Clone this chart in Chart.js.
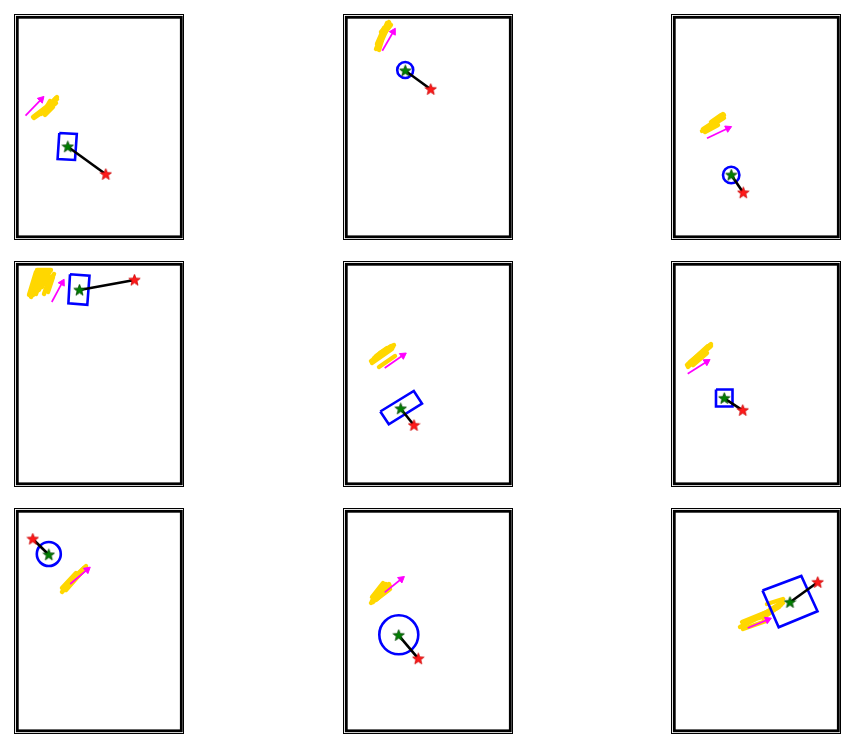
<!DOCTYPE html>
<html>
<head>
<meta charset="utf-8">
<script src="https://cdn.jsdelivr.net/npm/chart.js@4.4.1/dist/chart.umd.min.js"></script>
<style>
  html, body { margin: 0; padding: 0; background: #ffffff; }
  body { width: 853px; height: 746px; position: relative; overflow: hidden; }
  canvas.panel { position: absolute; }
</style>
</head>
<body>
<script>
// ---- data (panel-local coordinates, x to the right, y downward) ----
const panelCols = [0, 1, 2, 0, 1, 2, 0, 1, 2];
const panelRows = [0, 0, 0, 1, 1, 1, 2, 2, 2];

const greenStars = [[53.8,132.7],[62.3,56.7],[60.3,161],[65.5,29],[57.7,147.7],[53.3,137.3],[34.8,46.7],[55.7,127.3],[119,94.3]];
const redStars   = [[91.8,160.3],[87.7,75.3],[72.3,178.7],[120.5,19],[71,164.3],[71.7,149.3],[18.8,31],[75.3,150.7],[146.7,74.3]];

const arrowTail = [[11.5,101.7],[39.3,36.7],[36,124.3],[37.8,41],[41.7,107],[16.7,112.7],[56.2,76],[41.7,84.3],[76.7,120]];
const arrowTip  = [[27.2,85.3],[50.3,17.7],[57,114.3],[48.2,21.7],[60,94.3],[35.7,100.7],[73.2,61.7],[58.3,71],[96.7,111.7]];

const rectCorners = [
  [[45.3,119],[62.8,120],[61,146],[43.6,145]],
  null,
  null,
  [[56,13.3],[75.5,14.8],[73.3,43.8],[54.4,42.2]],
  [[37.3,150.5],[70.8,130],[79,142.5],[45.8,163.3]],
  [[45,128.5],[61.5,128.5],[61.5,145.5],[45,145.5]],
  null,
  null,
  [[91.5,82.5],[130.3,68],[146.5,103.3],[107.7,119.3]]
];
const circleCenters = [null,[62.2,56],[60.2,161],null,null,null,[34.8,46],[55.8,126.8],null];
const circleRadii   = [null,8,8.2,null,null,null,12,19.5,null];

// yellow scribble strokes: [x1, y1, x2, y2]
const yellowStrokes = [
  [[19,103,40,87],[20,104,42,89],[23,101,43,85],[27,100,42,84],[30,97,43,83],[31,101,39,93],[33,95,41,90],[29,99,36,87]],
  [[33,35,44,9],[35,35,46,8],[34,30,41,14],[38,24,47,10],[41,20,48,11],[36,36,39,26],[39,26,44,15],[38,18,46,9]],
  [[31,117,51,104],[32,115,52,102],[37,113,53,101],[40,112,53,104],[34,118,47,111],[45,108,52,100],[40,108,50,101]],
  [[15,34,22,11],[17,36,25,10],[19,34,28,10],[22,33,30,10],[25,29,33,10],[28,26,36,10],[30,33,36,16],[34,31,39,16],[23,9,37,9],[37,18,40,13]],
  [[28,100,47,87],[29,102,49,88],[31,97,48,85],[37,92,51,84],[41,91,50,86],[36,106,52,95],[33,95,44,87]],
  [[16,104,37,85],[17,106,40,83],[19,101,38,86],[22,104,36,92],[25,98,40,85],[27,97,39,84],[20,103,34,89]],
  [[48,84,70,60],[49,82,72,59],[52,82,67,65],[54,78,72,60],[48,80,62,65],[59,70,72,58],[58,74,70,62]],
  [[29,93,43,76],[30,94,46,76],[33,92,47,78],[29,89,40,75],[34,91,47,81],[31,88,44,79],[28,95,38,85]],
  [[69,119,99,104],[71,114,103,101],[88,110,108,99],[92,110,110,97],[95,106,112,95],[97,103,111,94],[96,96,112,91],[72,121,95,113],[90,107,100,102]]
];

// ---- styling ----
const COL_LEFT = [12, 341, 669];
const ROW_TOP = [12, 259, 506];
const CANVAS_W = 174, CANVAS_H = 230;

function makeStar(fill, edge) {
  const c = document.createElement('canvas');
  c.width = 13; c.height = 13;
  const g = c.getContext('2d');
  const cx = 6.5, cy = 6.8, R = 6, r = 2.5;
  g.beginPath();
  for (let k = 0; k < 10; k++) {
    const rad = k % 2 === 0 ? R : r;
    const a = -Math.PI / 2 + k * Math.PI / 5;
    const px = cx + rad * Math.cos(a), py = cy + rad * Math.sin(a);
    if (k === 0) g.moveTo(px, py); else g.lineTo(px, py);
  }
  g.closePath();
  g.fillStyle = fill; g.fill();
  g.lineWidth = 0.8; g.strokeStyle = edge; g.stroke();
  return c;
}
const greenStarImg = makeStar('#008000', '#004400');
const redStarImg = makeStar('#ff1a1a', '#cc0000');

const framePlugin = {
  id: 'frames',
  afterDraw(chart) {
    const g = chart.ctx;
    g.save();
    g.strokeStyle = '#000';
    g.lineWidth = 1;
    g.strokeRect(2.5, 2.5, 169, 225);
    g.lineWidth = 2.8;
    g.strokeRect(5.3, 5.3, 164, 219.5);
    g.restore();
  }
};

const pt = p => ({ x: p[0], y: p[1] });

for (let i = 0; i < 9; i++) {
  const cv = document.createElement('canvas');
  cv.className = 'panel';
  cv.width = CANVAS_W; cv.height = CANVAS_H;
  cv.style.left = COL_LEFT[panelCols[i]] + 'px';
  cv.style.top = ROW_TOP[panelRows[i]] + 'px';
  cv.style.width = CANVAS_W + 'px';
  cv.style.height = CANVAS_H + 'px';
  document.body.appendChild(cv);

  const datasets = [];
  datasets.push({
    data: [pt(greenStars[i]), pt(redStars[i])],
    pointStyle: [greenStarImg, redStarImg],
    pointRadius: 6,
    showLine: false,
    order: 0
  });
  datasets.push({
    data: [pt(greenStars[i]), pt(redStars[i])],
    showLine: true, borderColor: '#000000', borderWidth: 2.6,
    pointRadius: 0, order: 1
  });
  if (rectCorners[i]) {
    const c = rectCorners[i];
    datasets.push({
      data: [...c, c[0]].map(pt),
      showLine: true, borderColor: '#0000ff', borderWidth: 2.6,
      borderJoinStyle: 'miter', pointRadius: 0, tension: 0, order: 2
    });
  } else {
    const r = circleRadii[i];
    datasets.push({
      data: [pt(circleCenters[i])],
      showLine: false,
      pointStyle: 'circle',
      pointRadius: (ctx) => {
        const xs = ctx.chart.scales.x;
        return Math.abs(xs.getPixelForValue(r) - xs.getPixelForValue(0));
      },
      pointBorderColor: '#0000ff', pointBackgroundColor: 'rgba(0,0,0,0)',
      pointBorderWidth: 2.6, order: 2
    });
  }
  const tail = arrowTail[i], tip = arrowTip[i];
  datasets.push({
    data: [pt(tail), pt(tip)],
    showLine: true, borderColor: '#ff00ff', borderWidth: 1.7,
    pointRadius: [0, 4], pointStyle: 'triangle',
    pointBackgroundColor: '#ff00ff', pointBorderColor: '#ff00ff', pointBorderWidth: 1,
    rotation: (ctx) => {
      const xs = ctx.chart.scales.x, ys = ctx.chart.scales.y;
      const dx = xs.getPixelForValue(tip[0]) - xs.getPixelForValue(tail[0]);
      const dy = ys.getPixelForValue(tip[1]) - ys.getPixelForValue(tail[1]);
      return Math.atan2(dx, -dy) * 180 / Math.PI;
    },
    order: 3
  });
  yellowStrokes[i].forEach(s => {
    datasets.push({
      data: [{ x: s[0], y: s[1] }, { x: s[2], y: s[3] }],
      showLine: true, borderColor: '#ffd700', borderWidth: 4.4,
      borderCapStyle: 'round', pointRadius: 0, order: 4
    });
  });

  new Chart(cv, {
    type: 'scatter',
    data: { datasets },
    options: {
      responsive: false,
      animation: false,
      devicePixelRatio: 1,
      events: [],
      layout: { padding: 0, autoPadding: false },
      plugins: { legend: { display: false }, tooltip: { enabled: false } },
      scales: {
        x: { type: 'linear', display: false, min: -2, max: CANVAS_W - 2 },
        y: { type: 'linear', display: false, min: -2, max: CANVAS_H - 2, reverse: true }
      }
    },
    plugins: [framePlugin]
  });
}
</script>
</body>
</html>
